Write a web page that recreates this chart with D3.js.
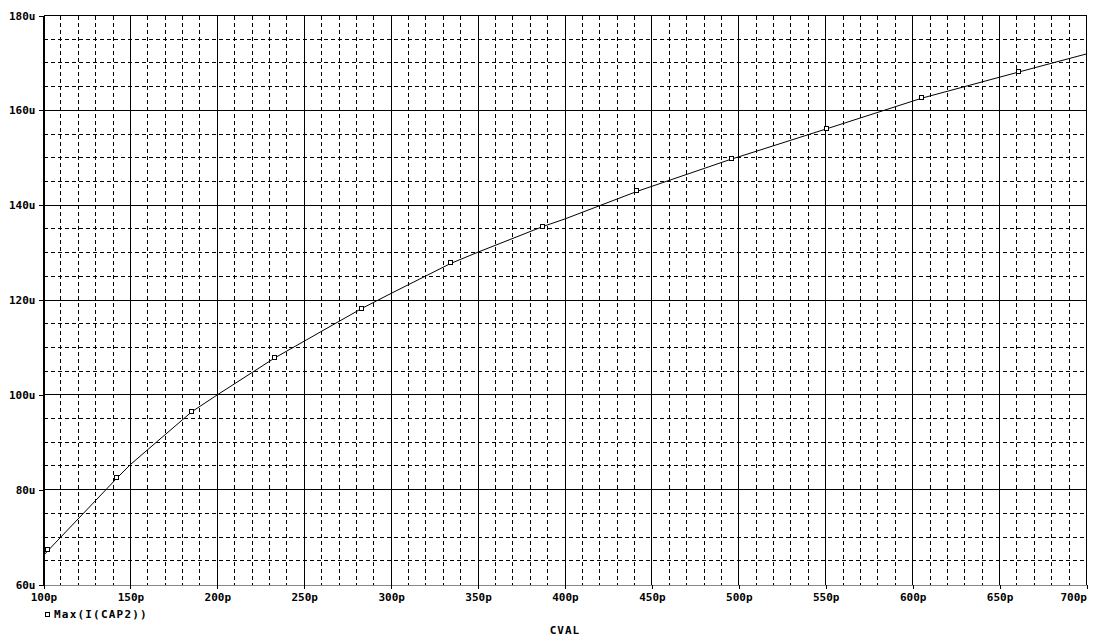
<!DOCTYPE html>
<html>
<head>
<meta charset="utf-8">
<script src="https://cdn.jsdelivr.net/npm/d3@7"></script>
<style>
  body { margin: 0; background: #fff; }
  text { font-family: "DejaVu Sans Mono", monospace; font-weight: bold; fill: #000; }
</style>
</head>
<body>
<div id="chart"></div>
<script>
// Sweep of CVAL (pF) vs Max(I(CAP2)) (uA)
var cval    = [100, 102.7, 142.4, 150, 185.2, 200, 233.1, 283, 300, 334.2, 350, 387.3, 400, 441.4, 496, 500, 550.5, 605.6, 661.2, 700];
var current = [66.1, 67.2, 82.5, 85.3, 96.4, 100.0, 107.8, 118.2, 121.4, 127.7, 130.1, 135.5, 137.1, 142.9, 149.75, 150.2, 156.1, 162.6, 168.1, 171.9];

// where the trace markers sit
var markerCval    = [102.7, 142.4, 185.2, 233.1, 283, 334.2, 387.3, 441.4, 496, 550.5, 605.6, 661.2];
var markerCurrent = [67.2, 82.5, 96.4, 107.8, 118.2, 127.7, 135.5, 142.9, 149.75, 156.1, 162.6, 168.1];

var xTicks = [100, 150, 200, 250, 300, 350, 400, 450, 500, 550, 600, 650, 700];
var yTicks = [60, 80, 100, 120, 140, 160, 180];
var xMinor = d3.range(100, 701, 10);
var yMinor = d3.range(60, 181, 5);

var traceName = 'Max(I(CAP2))';
var xTitle = 'CVAL';

// Chart Setup
var W = 1098, H = 641;
var plotL = 43.5, plotR = 1086.5, plotT = 15.5, plotB = 584.5;

var xScale = d3.scaleLinear().domain([100, 700]).range([plotL, plotR]);
var yScale = d3.scaleLinear().domain([60, 180]).range([plotB, plotT]);

var svg = d3.select('#chart').append('svg')
  .attr('width', W)
  .attr('height', H);

// Minor grid (dashed)
var grid = svg.append('g').attr('shape-rendering', 'crispEdges');
grid.selectAll('.vminor')
  .data(xMinor.filter(function(d) { return d % 50 !== 0; }))
  .enter().append('line')
  .attr('x1', function(d) { return xScale(d); })
  .attr('x2', function(d) { return xScale(d); })
  .attr('y1', plotT).attr('y2', plotB)
  .attr('stroke', '#000').attr('stroke-dasharray', '4,3');
grid.selectAll('.hminor')
  .data(yMinor.filter(function(d) { return d % 20 !== 0; }))
  .enter().append('line')
  .attr('y1', function(d) { return yScale(d); })
  .attr('y2', function(d) { return yScale(d); })
  .attr('x1', plotL).attr('x2', plotR)
  .attr('stroke', '#000').attr('stroke-dasharray', '4,3');

// Major grid (solid)
grid.selectAll('.vmajor')
  .data(xTicks)
  .enter().append('line')
  .attr('x1', function(d) { return xScale(d); })
  .attr('x2', function(d) { return xScale(d); })
  .attr('y1', plotT).attr('y2', plotB)
  .attr('stroke', '#000');
grid.selectAll('.hmajor')
  .data(yTicks.filter(function(d) { return d !== 60; }))
  .enter().append('line')
  .attr('y1', function(d) { return yScale(d); })
  .attr('y2', function(d) { return yScale(d); })
  .attr('x1', plotL).attr('x2', plotR)
  .attr('stroke', '#000');

// X-Axis along the bottom, grey line with small ticks
var xAxis = d3.axisBottom(xScale)
  .tickValues(xTicks)
  .tickSize(4)
  .tickSizeOuter(0)
  .tickFormat(function(d) { return d + 'p'; });
var gx = svg.append('g')
  .attr('transform', 'translate(0,' + plotB + ')')
  .attr('shape-rendering', 'crispEdges')
  .call(xAxis);
gx.select('.domain').attr('stroke', '#888');
gx.selectAll('.tick line').attr('stroke', '#000');
gx.selectAll('.tick text')
  .attr('y', 9)
  .attr('dy', '0.71em')
  .attr('text-anchor', function(d) { return d === 700 ? 'end' : 'middle'; })
  .style('font-family', '"DejaVu Sans Mono", monospace')
  .style('font-weight', 'bold')
  .style('font-size', '11px');
gx.selectAll('.minor-tick')
  .data(xMinor.filter(function(d) { return d % 50 !== 0; }))
  .enter().append('line')
  .attr('x1', function(d) { return xScale(d); })
  .attr('x2', function(d) { return xScale(d); })
  .attr('y1', -2).attr('y2', 0)
  .attr('stroke', '#000');

// Y-Axis on the left
var yAxis = d3.axisLeft(yScale)
  .tickValues(yTicks)
  .tickSize(5)
  .tickSizeOuter(0)
  .tickFormat(function(d) { return d + 'u'; });
var gy = svg.append('g')
  .attr('transform', 'translate(' + plotL + ',0)')
  .attr('shape-rendering', 'crispEdges')
  .call(yAxis);
gy.select('.domain').attr('stroke', '#000');
gy.selectAll('.tick text')
  .attr('x', -8)
  .style('font-family', '"DejaVu Sans Mono", monospace')
  .style('font-weight', 'bold')
  .style('font-size', '11px');

// Frame top / right
svg.append('line').attr('x1', plotL).attr('x2', plotR).attr('y1', plotT).attr('y2', plotT)
  .attr('stroke', '#000').attr('shape-rendering', 'crispEdges');
svg.append('line').attr('x1', plotR).attr('x2', plotR).attr('y1', plotT).attr('y2', plotB)
  .attr('stroke', '#000').attr('shape-rendering', 'crispEdges');

// Trace
var pts = cval.map(function(c, i) { return [c, current[i]]; });
var line = d3.line()
  .x(function(d) { return xScale(d[0]); })
  .y(function(d) { return yScale(d[1]); });
svg.append('path')
  .datum(pts)
  .attr('d', line)
  .attr('fill', 'none')
  .attr('stroke', '#000')
  .attr('stroke-width', 1);

// Markers
svg.selectAll('.marker')
  .data(markerCval.map(function(c, i) { return [c, markerCurrent[i]]; }))
  .enter().append('rect')
  .attr('class', 'marker')
  .attr('x', function(d) { return Math.round(xScale(d[0])) - 2.5; })
  .attr('y', function(d) { return Math.round(yScale(d[1])) - 2.5; })
  .attr('width', 4).attr('height', 4)
  .attr('fill', '#fff')
  .attr('stroke', '#000')
  .attr('shape-rendering', 'crispEdges');

// Legend
svg.append('rect')
  .attr('x', 45.5).attr('y', 612.5)
  .attr('width', 4).attr('height', 4)
  .attr('fill', '#fff').attr('stroke', '#000')
  .attr('shape-rendering', 'crispEdges');
svg.append('text')
  .attr('x', 54).attr('y', 618)
  .style('font-size', '11px')
  .style('letter-spacing', '1.2px')
  .text(traceName);

// X title
svg.append('text')
  .attr('x', (plotL + plotR) / 2)
  .attr('y', 634)
  .attr('text-anchor', 'middle')
  .style('font-size', '11px')
  .style('letter-spacing', '1px')
  .text(xTitle);
</script>
</body>
</html>
